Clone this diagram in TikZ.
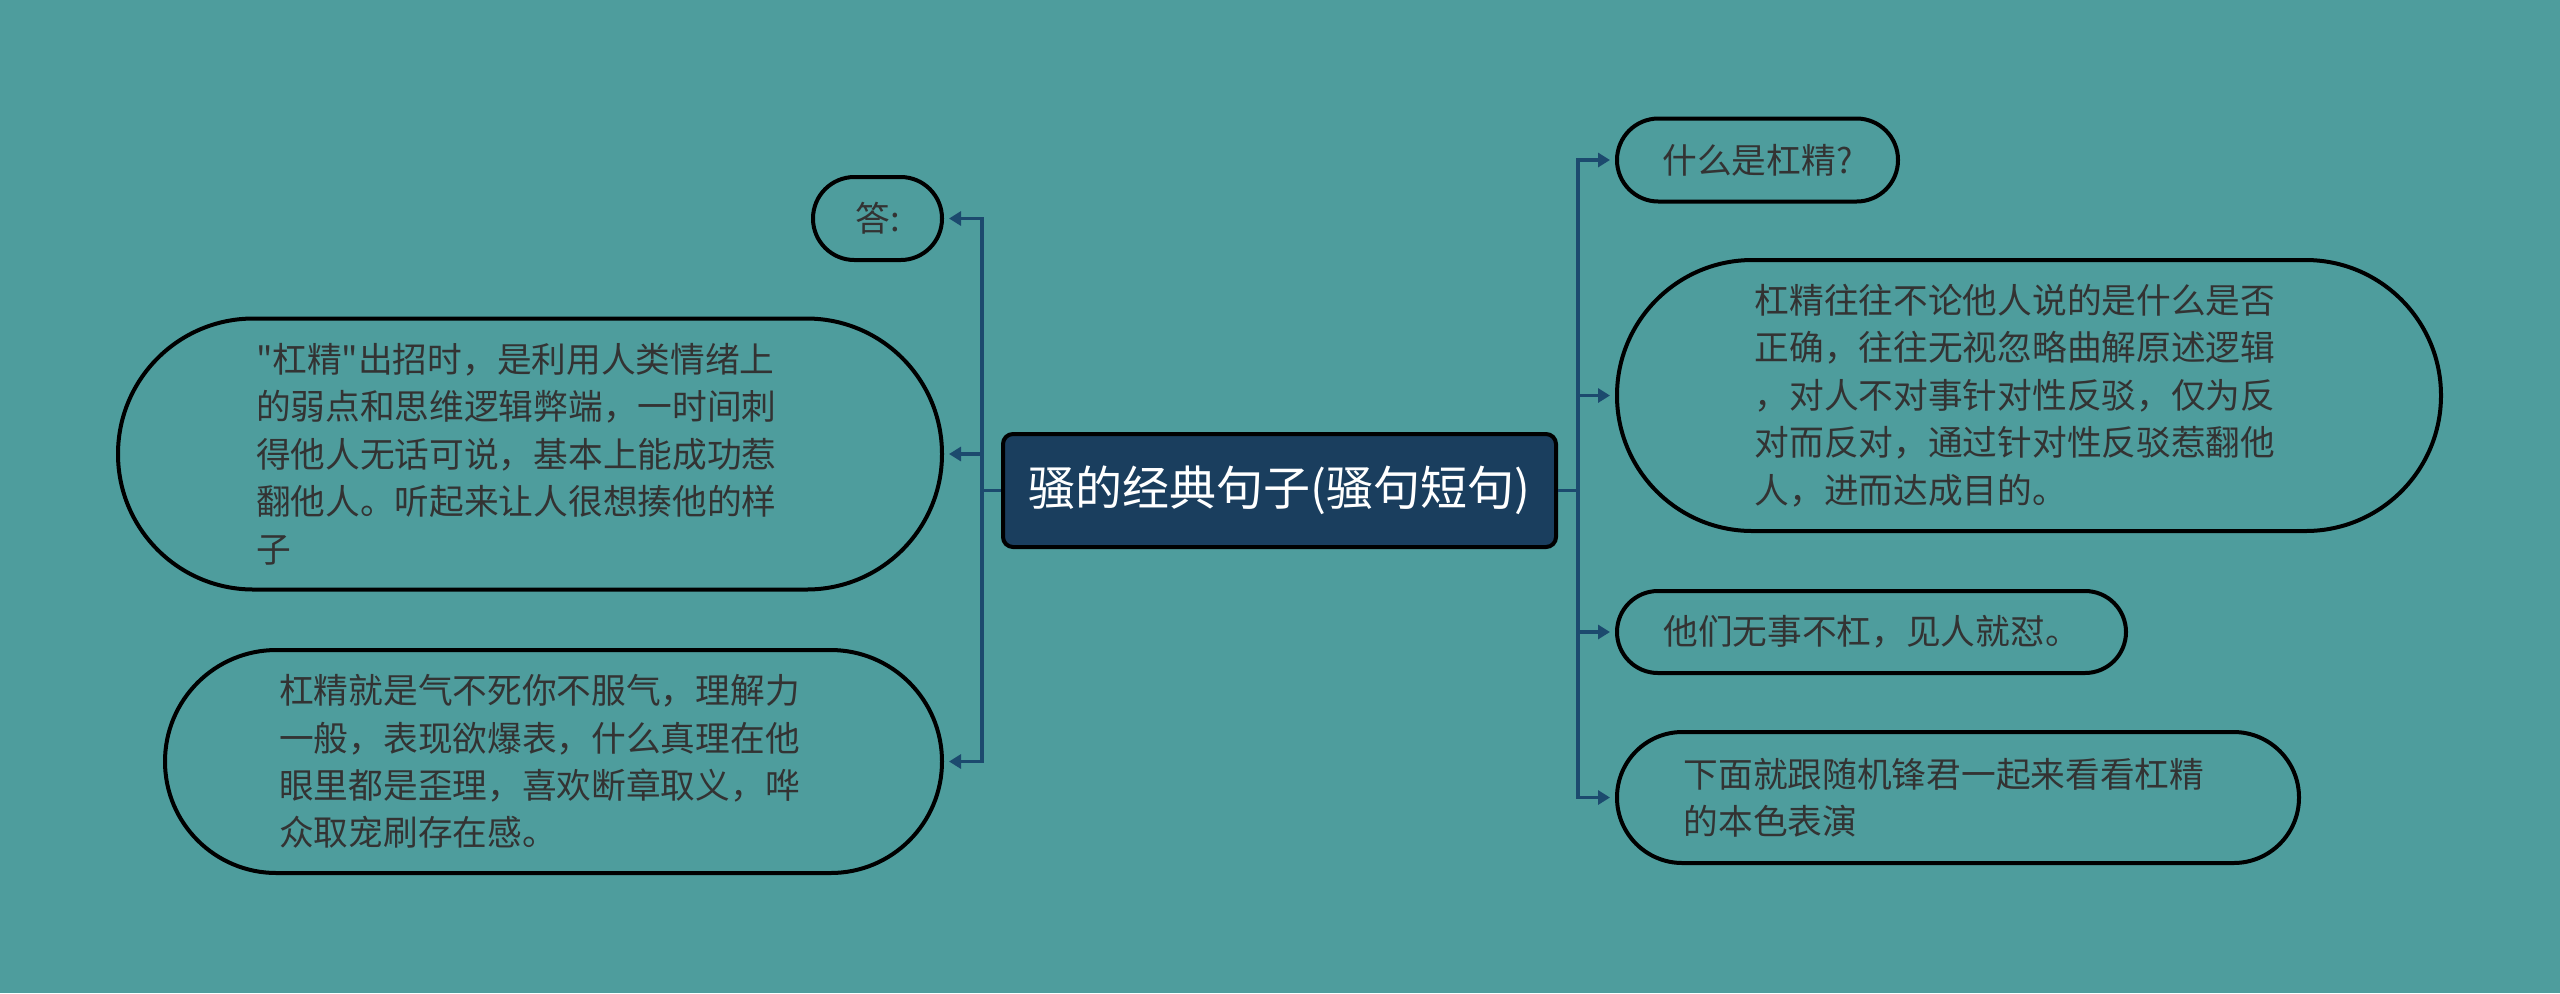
\documentclass[tikz,border=0pt]{standalone}
\usepackage{fontspec}
\setmainfont{Noto Sans CJK SC}[Ligatures=TeXOff]
\usetikzlibrary{arrows.meta}
\definecolor{bgteal}{HTML}{4E9D9D}
\definecolor{navy}{HTML}{1A3E5E}
\definecolor{conncol}{HTML}{1C4A6E}
\definecolor{leaftext}{HTML}{333333}
\newcommand{\bodyfont}{\fontsize{17.35pt}{23.7pt}\selectfont}
\newcommand{\titlefont}{\fontsize{23.5pt}{28pt}\selectfont}
\newcommand{\padr}{\hspace*{14pt}}
\tikzset{
  rootbox/.style={draw=black, line width=2pt, fill=navy, text=white, font=\titlefont,
    rounded corners=5pt, inner sep=0pt, minimum width=276.5pt, minimum height=56.5pt},
  leaf/.style={draw=black, line width=2pt, text=leaftext, font=\bodyfont, align=left, inner sep=0pt},
  conn/.style={draw=conncol, line width=1.65pt},
  arr/.style={conn, -{Triangle[length=6pt,width=7pt]}, shorten >=2.5pt},
}
\begin{document}
\begin{tikzpicture}[x=0.5pt,y=-0.5pt]
\path[use as bounding box, fill=bgteal] (0,0) rectangle (2560,993);

\node[rootbox] (c) at (1279.5,490.5) {骚的经典句子(骚句短句)};

% right side
\node[leaf, minimum width=140.5pt, minimum height=41.5pt, rounded corners=20.7pt] (r1) at (1757.5,160) {什么是杠精?};
\node[leaf, minimum width=412pt, minimum height=135.5pt, rounded corners=67.7pt] (r2) at (2029,395.5)
  {杠精往往不论他人说的是什么是否\padr\\正确，往往无视忽略曲解原述逻辑\\，对人不对事针对性反驳，仅为反\\对而反对，通过针对性反驳惹翻他\\人，进而达成目的。};
\node[leaf, minimum width=254.5pt, minimum height=41pt, rounded corners=20.5pt] (r3) at (1871.5,632) {他们无事不杠，见人就怼。};
\node[leaf, minimum width=341pt, minimum height=65.5pt, rounded corners=32.7pt] (r4) at (1958,797.5)
  {下面就跟随机锋君一起来看看杠精\padr\\的本色表演};

% left side
\node[leaf, minimum width=64.5pt, minimum height=41.5pt, rounded corners=20.7pt] (l1) at (877.5,218.5) {答:};
\node[leaf, minimum width=412pt, minimum height=135.5pt, rounded corners=67.7pt] (l2) at (530,454)
  {\makebox[274pt][l]{"杠精"出招时，是利用人类情绪上}\\的弱点和思维逻辑弊端，一时间刺\\得他人无话可说，基本上能成功惹\\翻他人。听起来让人很想揍他的样\\子};
\node[leaf, minimum width=388.5pt, minimum height=111.5pt, rounded corners=55.7pt] (l3) at (553.5,761.5)
  {杠精就是气不死你不服气，理解力\padr\\一般，表现欲爆表，什么真理在他\\眼里都是歪理，喜欢断章取义，哗\\众取宠刷存在感。};

% connectors
\coordinate (rt) at (1578,490.5);
\coordinate (lt) at (982,490.5);
\draw[conn] (c.east) -- (rt);
\draw[conn] (c.west) -- (lt);
\draw[arr] (rt) |- (r1.west);
\draw[arr] (rt) |- (r2.west);
\draw[arr] (rt) |- (r3.west);
\draw[arr] (rt) |- (r4.west);
\draw[arr] (lt) |- (l1.east);
\draw[arr] (lt) |- (l2.east);
\draw[arr] (lt) |- (l3.east);
\end{tikzpicture}
\end{document}
